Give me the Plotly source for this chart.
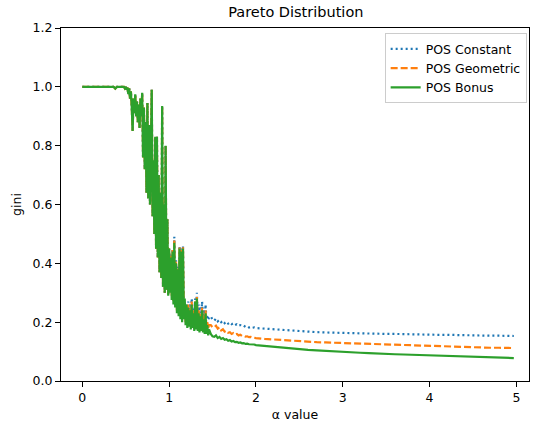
import plotly.graph_objects as go

# ---------------- data ----------------
alpha_head = [0.0, 0.36, 0.38, 0.40, 0.45]
alpha_noisy = [0.46, 0.47, 0.48, 0.49, 0.50, 0.51, 0.52, 0.53, 0.54, 0.55,
               0.56, 0.57, 0.58, 0.59, 0.60, 0.61, 0.62, 0.63, 0.64, 0.65,
               0.66, 0.67, 0.68, 0.69, 0.70, 0.71, 0.72, 0.73, 0.74, 0.75,
               0.76, 0.77, 0.78, 0.79, 0.80, 0.81, 0.82, 0.83, 0.84, 0.85,
               0.86, 0.87, 0.88, 0.89, 0.90, 0.91, 0.92, 0.93, 0.94, 0.95,
               0.96, 0.97, 0.98, 0.99, 1.00, 1.01, 1.02, 1.03, 1.04, 1.05,
               1.06, 1.07, 1.08, 1.09, 1.10, 1.11, 1.12, 1.13, 1.14, 1.15,
               1.16, 1.17, 1.18, 1.19, 1.20, 1.21, 1.22, 1.23, 1.24, 1.25,
               1.26, 1.27, 1.28, 1.29, 1.30, 1.31, 1.32, 1.33, 1.34, 1.35,
               1.36, 1.37, 1.38, 1.39, 1.40, 1.41, 1.42, 1.43, 1.44, 1.45,
               1.46]
alpha_mid = [1.48, 1.50, 1.52, 1.54, 1.56, 1.58, 1.60, 1.62, 1.64, 1.66,
             1.68, 1.70, 1.72, 1.74, 1.76, 1.78, 1.80, 1.82, 1.84, 1.86,
             1.88, 1.90, 1.92, 1.94, 1.96, 1.98, 2.00]
alpha_tail = [2.1, 2.2, 2.3, 2.4, 2.5, 2.6, 2.7, 2.8, 2.9, 3.0,
              3.1, 3.2, 3.3, 3.4, 3.5, 3.6, 3.7, 3.8, 3.9, 4.0,
              4.1, 4.2, 4.3, 4.4, 4.5, 4.6, 4.7, 4.8, 4.9, 4.97]

gini_head = [1.0, 1.0, 0.994, 1.0, 1.0]

# shared early part (alpha 0.46 .. 1.00), the three curves overlap there
gini_early = [1.000, 0.998, 1.000, 0.995, 1.000, 0.990, 0.998, 0.975, 0.995, 0.960,
              0.985, 0.930, 0.850, 0.960, 0.910, 0.975, 0.900, 0.950, 0.880, 0.940,
              0.860, 0.960, 0.900, 0.980, 0.760, 0.930, 0.720, 0.880, 0.640, 0.945,
              0.620, 0.870, 0.600, 0.780, 0.990, 0.560, 0.750, 0.500, 0.830, 0.450,
              0.830, 0.420, 0.700, 0.370, 0.640, 0.350, 0.935, 0.320, 0.600, 0.300,
              0.800, 0.310, 0.550, 0.290, 0.450]

bonus_late = [0.300, 0.420, 0.275, 0.440, 0.260, 0.470, 0.250, 0.400, 0.230, 0.380,
              0.220, 0.450, 0.210, 0.440, 0.200, 0.450, 0.210, 0.280, 0.190, 0.260,
              0.180, 0.250, 0.185, 0.240, 0.175, 0.260, 0.180, 0.230, 0.170, 0.270,
              0.175, 0.280, 0.170, 0.230, 0.165, 0.220, 0.170, 0.240, 0.165, 0.210,
              0.160, 0.230, 0.160, 0.190, 0.155, 0.175]
constant_late = [0.32, 0.43, 0.30, 0.45, 0.28, 0.49, 0.27, 0.41, 0.25, 0.39,
                 0.24, 0.46, 0.23, 0.45, 0.22, 0.46, 0.23, 0.27, 0.22, 0.26,
                 0.23, 0.27, 0.24, 0.26, 0.23, 0.28, 0.24, 0.25, 0.22, 0.28,
                 0.23, 0.30, 0.22, 0.26, 0.23, 0.25, 0.22, 0.27, 0.22, 0.24,
                 0.21, 0.26, 0.21, 0.22, 0.21, 0.215]
geometric_late = [0.31, 0.425, 0.29, 0.445, 0.27, 0.48, 0.26, 0.405, 0.24, 0.385,
                  0.23, 0.455, 0.22, 0.445, 0.21, 0.455, 0.22, 0.26, 0.20, 0.25,
                  0.20, 0.26, 0.21, 0.245, 0.20, 0.27, 0.205, 0.24, 0.195, 0.27,
                  0.20, 0.285, 0.195, 0.24, 0.19, 0.23, 0.19, 0.25, 0.19, 0.22,
                  0.185, 0.24, 0.18, 0.20, 0.18, 0.19]

constant_mid = [0.220, 0.208, 0.205, 0.212, 0.203, 0.208, 0.200, 0.205, 0.197, 0.202,
                0.195, 0.199, 0.193, 0.196, 0.190, 0.193, 0.188, 0.190, 0.186, 0.188,
                0.184, 0.186, 0.182, 0.184, 0.181, 0.182, 0.180]
geometric_mid = [0.190, 0.183, 0.182, 0.188, 0.178, 0.183, 0.172, 0.176, 0.168, 0.171,
                 0.164, 0.166, 0.160, 0.163, 0.158, 0.160, 0.155, 0.157, 0.153, 0.154,
                 0.151, 0.152, 0.149, 0.150, 0.148, 0.148, 0.146]
bonus_mid = [0.160, 0.152, 0.150, 0.155, 0.146, 0.150, 0.143, 0.146, 0.140, 0.142,
             0.137, 0.139, 0.134, 0.136, 0.132, 0.133, 0.130, 0.131, 0.128, 0.129,
             0.126, 0.127, 0.125, 0.125, 0.123, 0.124, 0.122]

constant_tail = [0.178, 0.175, 0.172, 0.170, 0.168, 0.167, 0.166, 0.165, 0.164, 0.163,
                 0.162, 0.162, 0.161, 0.161, 0.160, 0.160, 0.159, 0.159, 0.158, 0.158,
                 0.157, 0.157, 0.156, 0.156, 0.155, 0.155, 0.154, 0.154, 0.153, 0.153]
geometric_tail = [0.143, 0.141, 0.138, 0.136, 0.134, 0.133, 0.132, 0.131, 0.130, 0.129,
                  0.127, 0.126, 0.125, 0.124, 0.123, 0.122, 0.121, 0.120, 0.119, 0.118,
                  0.117, 0.117, 0.116, 0.115, 0.115, 0.114, 0.113, 0.113, 0.112, 0.112]
bonus_tail = [0.119, 0.116, 0.113, 0.110, 0.108, 0.106, 0.104, 0.102, 0.100, 0.099,
              0.097, 0.096, 0.095, 0.093, 0.092, 0.091, 0.090, 0.089, 0.088, 0.086,
              0.085, 0.084, 0.083, 0.082, 0.081, 0.081, 0.080, 0.079, 0.079, 0.078]

x_ticks = [0, 1, 2, 3, 4, 5]
y_ticks = [0.0, 0.2, 0.4, 0.6, 0.8, 1.0, 1.2]

# ---------------- build ----------------
alpha = alpha_head + alpha_noisy + alpha_mid + alpha_tail
pos_constant = gini_head + gini_early + constant_late + constant_mid + constant_tail
pos_geometric = gini_head + gini_early + geometric_late + geometric_mid + geometric_tail
pos_bonus = gini_head + gini_early + bonus_late + bonus_mid + bonus_tail

FONT = "DejaVu Sans"

fig = go.Figure()
fig.add_trace(go.Scatter(x=alpha, y=pos_constant, mode="lines", name="POS Constant",
                         line=dict(color="#1f77b4", width=2.2, dash="2px,3px")))
fig.add_trace(go.Scatter(x=alpha, y=pos_geometric, mode="lines", name="POS Geometric",
                         line=dict(color="#ff7f0e", width=2.2, dash="7px,3px")))
fig.add_trace(go.Scatter(x=alpha, y=pos_bonus, mode="lines", name="POS Bonus",
                         line=dict(color="#2ca02c", width=2.2)))

axis_common = dict(showgrid=False, zeroline=False, showline=True, linecolor="black",
                   linewidth=1.2, mirror=True, ticks="outside", ticklen=5,
                   tickwidth=1.2, tickcolor="black",
                   tickfont=dict(family=FONT, size=12.5, color="black"))

fig.update_layout(
    width=533, height=425,
    margin=dict(l=61, r=4, t=28, b=44),
    paper_bgcolor="white", plot_bgcolor="white",
    title=dict(text="Pareto Distribution", x=0.555, xanchor="center", y=0.972,
               yanchor="middle", font=dict(family=FONT, size=14.5, color="black")),
    xaxis=dict(range=[-0.245, 5.145], tickvals=x_ticks,
               title=dict(text="α value", standoff=6,
                          font=dict(family=FONT, size=12.5, color="black")),
               **axis_common),
    yaxis=dict(range=[0, 1.2], tickvals=y_ticks, tickformat=".1f",
               title=dict(text="gini", standoff=8,
                          font=dict(family=FONT, size=12.5, color="black")),
               **axis_common),
    legend=dict(x=0.995, xanchor="right", y=0.985, yanchor="top",
                bordercolor="#cccccc", borderwidth=1, bgcolor="white",
                font=dict(family=FONT, size=12.5, color="black"),
                tracegroupgap=0, itemwidth=30),
    showlegend=True,
)

fig.write_html("out.html", config={"displayModeBar": False},
               post_script="document.body.style.margin='0';document.body.style.padding='0';")
